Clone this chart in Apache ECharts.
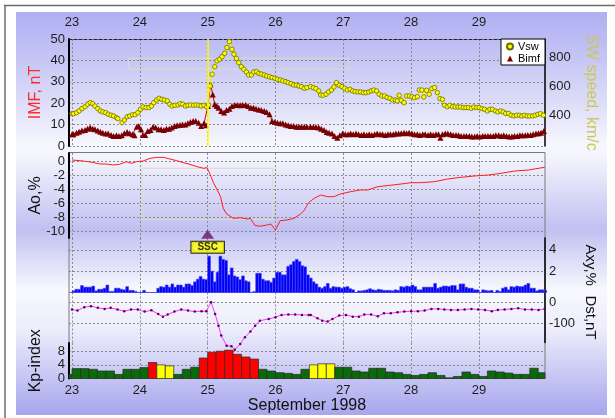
<!DOCTYPE html>
<html>
<head>
<meta charset="utf-8">
<script src="https://cdn.jsdelivr.net/npm/echarts@6/dist/echarts.min.js"></script>
<style>
  html, body { margin: 0; padding: 0; background: #fff; }
  #chart { width: 615px; height: 418px; }
</style>
</head>
<body>
<div id="chart"></div>
<script>
// September 1998 storm: IMF/Vsw, Ao, Axy, Dst, Kp
const tickDays = [23, 24, 25, 26, 27, 28, 29];

// [hours since 23 Sep 00UT, km/s]
const vswPairs = [[0,409],[0.5,409],[1.6,416],[2.5,428],[3.5,444],[4.6,457],[5.5,474],[6.4,485],[7.3,478],[8.1,462],[9.1,444],[10,428],[10.9,421],[11.9,416],[12.8,405],[13.8,398],[14.7,393],[15.7,382],[16.2,375],[17,null],[17.7,347],[18.5,365],[19.5,388],[20.4,393],[21.4,402],[22.3,402],[23.3,416],[24.2,439],[25.1,455],[26.2,451],[27.2,451],[28.1,462],[28.9,485],[29.9,503],[30.8,515],[31.8,508],[32.7,503],[33.7,497],[34.6,474],[35.4,462],[36.4,467],[37.5,469],[38.3,478],[39.2,474],[40.1,462],[41,467],[41.9,469],[43,467],[43.9,469],[44.9,467],[45.7,462],[46.7,467],[47.6,457],[48.3,469],[48.9,600],[49.6,681],[50.5,733],[51.3,773],[52.2,784],[53.1,802],[54,825],[54.8,865],[55.7,906],[56.6,853],[57.3,819],[58.2,789],[59,761],[59.9,733],[60.8,715],[61.7,697],[62.5,676],[63.5,676],[64.3,697],[65.3,699],[66.1,687],[67,682],[68,676],[68.9,669],[69.9,664],[70.8,658],[71.8,653],[72.7,646],[73.7,641],[74.6,635],[75.6,630],[76.5,623],[77.5,616],[78.4,607],[79.4,605],[80.3,600],[81.2,595],[82.2,584],[83.1,589],[84.4,595],[85.4,589],[86.3,582],[87.3,566],[88,538],[88.9,536],[89.9,543],[90.8,559],[91.8,572],[92.7,593],[93.6,623],[94.6,605],[95.5,595],[96.5,584],[97.4,572],[98.4,577],[99.3,566],[100.2,561],[101.2,559],[102.1,559],[103.1,554],[104,554],[105,559],[105.9,566],[106.8,572],[107.8,566],[108.7,543],[109.7,531],[110.6,531],[111.5,520],[112.5,515],[113.4,503],[114.4,503],[115.1,497],[115.8,536],[116.5,501],[117.5,485],[118.4,531],[119.4,531],[120.3,526],[121.2,520],[122.2,526],[122.9,572],[123.8,572],[124.5,524],[125.5,570],[126.4,543],[127.4,582],[128.3,589],[129.3,554],[130.2,513],[131.1,508],[131.8,467],[132.8,457],[133.7,467],[134.7,457],[135.6,455],[136.6,455],[137.5,455],[138.5,451],[139.4,451],[140.3,451],[141.3,446],[142.2,455],[143.2,451],[144.1,451],[145.1,444],[146,439],[147,428],[147.9,439],[148.8,439],[149.8,428],[150.7,421],[151.7,428],[152.6,421],[153.5,411],[154.5,411],[155.4,398],[156.4,393],[157.3,398],[158.3,398],[159.2,393],[160.1,398],[161.1,393],[162,393],[163,393],[163.9,398],[164.9,405],[165.8,409],[166.8,398],[167.7,393]];

// [hours since 23 Sep 00UT, nT]
const bimfPairs = [[0,5.5],[0.5,5.5],[1.6,6.2],[2.5,6.7],[3.5,7.3],[4.6,7.5],[5.5,8.1],[6.4,8.6],[7.3,8.1],[8.1,7.8],[9.1,7.3],[10,6.7],[10.9,6.2],[11.9,5.8],[12.8,5.8],[13.8,5.1],[14.7,4.7],[15.7,5.0],[16.6,4.7],[17.6,5.0],[18.5,5.9],[19.5,6.5],[20.4,5.9],[21.4,5.5],[22.1,5.0],[22.9,9.0],[23.6,9.3],[24.4,7.8],[25.1,5.1],[25.9,5.1],[26.8,7.0],[27.8,7.5],[28.7,9.0],[29.6,8.6],[30.6,7.8],[31.5,7.8],[32.5,7.5],[33.4,8.1],[34.4,8.1],[35.3,8.6],[36.3,9.3],[37.2,9.7],[38.2,9.8],[39.1,10.1],[40.1,10.1],[41,10.6],[41.9,11.2],[42.9,11.7],[43.8,11.7],[44.8,10.9],[45.7,9.3],[46.7,10.6],[47.4,9.7],[48.1,18.7],[49,28.8],[49.8,24.1],[50.5,19.5],[51.2,18.7],[51.9,17.9],[52.8,16.4],[53.8,15.6],[54.7,16.8],[55.7,17.4],[56.6,18.7],[57.6,19.2],[58.5,19.2],[59.5,19.0],[60.4,19.2],[61.4,19.2],[62.3,18.7],[63.3,17.9],[64.2,17.9],[65.1,17.4],[66.1,17.1],[67,16.8],[68,16.4],[68.9,15.9],[69.9,14.8],[70.8,11.7],[71.8,11.2],[72.7,10.9],[73.7,10.6],[74.6,10.6],[75.6,10.1],[76.5,9.7],[77.5,9.3],[78.4,9.3],[79.4,9.0],[80.3,9.0],[81.2,9.0],[82.2,9.0],[83.1,9.0],[84.4,9.0],[85.4,8.9],[86.3,8.9],[87.3,8.6],[88.2,8.1],[89.2,7.5],[90.1,6.5],[91,6.2],[92,5.8],[92.9,4.7],[93.9,3.9],[94.8,5.0],[95.8,5.8],[96.7,5.5],[97.7,5.5],[98.6,5.8],[99.5,5.5],[100.5,5.8],[101.4,5.5],[102.4,5.1],[103.3,5.5],[104.3,5.1],[105.2,5.5],[106.1,5.1],[107.1,5.5],[108,5.8],[109,5.5],[109.9,5.5],[110.9,5.1],[111.8,5.5],[112.7,5.5],[113.7,5.5],[114.6,5.8],[115.6,5.8],[116.5,5.9],[117.5,6.2],[118.4,5.9],[119.3,6.2],[120.3,5.8],[121.2,5.5],[122.2,5.5],[123.1,5.1],[124.1,5.5],[125,5.5],[126,5.1],[126.9,5.5],[127.8,5.1],[128.8,5.5],[129.7,5.5],[130.4,3.9],[131.1,5.5],[132.1,5.8],[133,5.8],[134,5.5],[134.9,5.1],[135.9,5.1],[136.8,5.0],[137.7,4.7],[138.7,4.7],[139.6,4.7],[140.6,4.7],[141.5,4.4],[142.5,4.4],[143.4,4.7],[144.3,4.4],[145.3,4.7],[146.2,4.7],[147.2,4.7],[148.1,4.7],[149.1,4.7],[150,5.0],[151,5.0],[151.9,4.7],[152.8,5.0],[153.8,4.7],[154.7,4.4],[155.7,4.4],[156.6,4.7],[157.6,4.7],[158.5,5.0],[159.4,5.0],[160.4,5.0],[161.3,5.1],[162.3,5.1],[163.2,5.5],[164.2,5.8],[165.1,5.9],[166,6.2],[167,7.0]];

// [day of Sep, Ao %]
const aoPairs = [[23.0,0.14],[23.16,0],[23.31,-0.2],[23.41,-0.43],[23.51,-0.43],[23.6,-0.57],[23.7,-0.48],[23.8,-0.1],[23.88,-0.33],[23.95,-0.1],[24.05,0],[24.15,0.38],[24.25,0.52],[24.35,0.52],[24.44,0.29],[24.54,0.05],[24.64,-0.24],[24.74,-0.48],[24.84,-0.8],[24.94,-1.05],[24.99,-0.95],[25.03,-1.76],[25.09,-3.2],[25.14,-4.1],[25.16,-3.9],[25.19,-5.1],[25.23,-6.76],[25.28,-7.57],[25.38,-8.2],[25.48,-8.1],[25.58,-8.29],[25.63,-8.2],[25.7,-9.24],[25.78,-9.3],[25.88,-9.14],[25.93,-9.0],[26.0,-9.86],[26.07,-8.52],[26.17,-8.43],[26.27,-8.2],[26.37,-7.57],[26.42,-7.1],[26.49,-5.95],[26.57,-5.33],[26.67,-4.86],[26.77,-5.1],[26.86,-5.1],[26.96,-4.71],[27.11,-4.38],[27.26,-4.14],[27.36,-4.14],[27.51,-3.67],[27.65,-3.52],[27.85,-3.29],[28.0,-3.1],[28.15,-3.1],[28.35,-2.95],[28.54,-2.57],[28.74,-2.33],[28.94,-2.14],[29.14,-2.0],[29.33,-1.76],[29.53,-1.43],[29.73,-1.29],[29.97,-0.9]];

// hourly Axy %, one array per day
const axy23 = [0.15,0.3,0.3,0.65,0.5,0.5,0.5,0.6,0.15,0.3,0.3,0.4,0.7,0.1,0.1,0.4,0.4,0.3,0.25,0.55,0.2,0.2,0.1,0];
const axy24 = [0,0.2,0,0,0,0,0.4,0.55,0.5,0.7,0.5,0.8,0.5,0.7,0.7,0.5,0.8,0.8,0.65,1.0,1.25,1.5,1.25,1.2];
const axy25 = [3.4,2.0,1.0,1.9,3.4,3.1,3.0,1.65,2.3,1.55,1.45,1.2,1.55,1.1,1.0,0,0.1,1.8,1.8,1.25,1.1,1.1,0.95,1.35];
const axy26 = [1.9,1.9,1.65,1.65,2.45,2.6,2.9,3.1,2.9,2.5,2.4,1.65,1.35,1.0,0.8,0.5,0.4,0.55,0.85,0.4,0.55,0.5,0.5,0.4];
const axy27 = [0.5,0.55,0.35,0.25,0,0.15,0.15,0.2,0.25,0.35,0.25,0.2,0.3,0.25,0.2,0.2,0.2,0.15,0.25,0.2,0.55,0.5,0.6,0.55];
const axy28 = [0.7,0.55,0.25,0.25,0.5,0.5,0.5,0.5,0.85,0.4,0.5,0.6,0.6,0.55,0.65,0.65,0.25,0.8,0.8,0.5,0.4,0.4,0.25,0.25];
const axy29 = [0,0.25,0.2,0.15,0.2,0,0.2,0.1,0.4,0.5,0.25,0.55,0.5,0.6,0.55,0.55,0.7,0.85,0.4,0.4,0.15,0.25,0.25,0.2];

// [day of Sep, Dst nT]
const dstPairs = [[23.0,-33],[23.08,-38],[23.18,-22],[23.28,-17],[23.38,-25],[23.48,-30],[23.57,-25],[23.67,-33],[23.77,-41],[23.87,-33],[23.97,-33],[24.07,-43],[24.17,-37],[24.27,-54],[24.34,-67],[24.41,-57],[24.51,-43],[24.61,-33],[24.71,-38],[24.81,-43],[24.91,-41],[24.98,-41],[25.05,2],[25.11,-54],[25.16,-110],[25.2,-157],[25.28,-205],[25.35,-208],[25.4,-224],[25.48,-197],[25.55,-165],[25.63,-138],[25.7,-110],[25.77,-86],[25.9,-78],[26.0,-70],[26.09,-59],[26.19,-57],[26.29,-57],[26.39,-59],[26.49,-59],[26.52,-59],[26.62,-75],[26.69,-86],[26.77,-90],[26.84,-78],[26.94,-62],[27.04,-59],[27.14,-67],[27.23,-67],[27.31,-57],[27.41,-57],[27.51,-65],[27.6,-51],[27.7,-51],[27.8,-46],[27.9,-43],[28.0,-41],[28.1,-41],[28.2,-38],[28.3,-30],[28.4,-30],[28.49,-33],[28.59,-35],[28.69,-35],[28.79,-33],[28.89,-30],[28.99,-33],[29.09,-35],[29.19,-41],[29.28,-35],[29.38,-33],[29.48,-30],[29.58,-27],[29.68,-33],[29.78,-33],[29.88,-35],[29.97,-30]];

// 3-hour Kp, from 23 Sep 00UT (kpPrev = last interval of 22 Sep)
const kpPrev = 1.2;
const kp = [2.9,2.9,2.7,2.2,2.2,1.2,2.7,2.7, 3.2,4.7,4.0,3.7,1.2,2.7,3.3,6.0, 7.7,8.0,8.3,7.1,6.3,5.7,2.7,2.2, 1.7,1.5,1.2,2.7,4.0,4.3,4.3,3.3, 3.3,2.2,1.9,3.0,3.0,1.9,1.7,1.2, 0.9,1.2,1.7,0.9,0.2,0.6,1.9,1.2, 0.6,2.2,1.9,1.6,1.2,1.2,3.0,1.7];

const X_MIN = 22.955, X_MAX = 29.975;
const FONT = 'Liberation Sans';
const dash = { color: '#8a8a8a', width: 1, type: [2, 2] };
const lbl = { fontFamily: FONT, fontSize: 13, color: '#1e1e1e' };

const toDay = h => 23 + h / 24;
const vswData = vswPairs.map(p => [toDay(p[0]), p[1] === null ? '-' : p[1]]);
const bimfData = bimfPairs.map(p => [toDay(p[0]), p[1]]);
const axyHourly = [].concat(axy23, axy24, axy25, axy26, axy27, axy28, axy29);
const axyData = axyHourly.map((v, i) => [23 + i / 24, v]);
const kpData = [[22.875, kpPrev]].concat(kp.map((v, i) => [23 + i / 8, v]));

function xAxisFor(grid, extra) {
  return Object.assign({
    type: 'value', gridIndex: grid, min: X_MIN, max: X_MAX,
    axisLine: { show: false, onZero: false },
    axisTick: { show: false, customValues: tickDays },
    axisLabel: { show: false, customValues: tickDays },
    splitLine: { show: true, lineStyle: dash }
  }, extra || {});
}

function yAxisFor(grid, pos, min, max, ticks, name, nameColor, extra) {
  return Object.assign({
    type: 'value', gridIndex: grid, position: pos, min: min, max: max,
    axisLine: { show: true, onZero: false, lineStyle: { color: '#000', width: 2 } },
    axisTick: { show: false, customValues: ticks },
    axisLabel: Object.assign({ customValues: ticks, margin: 4 }, lbl),
    splitLine: { show: true, lineStyle: dash },
    name: name, nameLocation: 'middle', nameMoveOverlap: false,
    nameGap: pos === 'left' ? 25 : 38,
    nameRotate: pos === 'left' ? 90 : -90,
    nameTextStyle: { fontFamily: FONT, fontSize: 16, color: nameColor }
  }, extra || {});
}

function axyRender(params, api) {
  const x0 = api.value(0), v = api.value(1);
  const a = api.coord([x0, v]), b = api.coord([x0 + 1 / 24, 0]);
  return {
    type: 'rect',
    shape: { x: a[0], y: a[1], width: b[0] - a[0], height: b[1] - a[1] },
    style: { fill: '#0000f4', stroke: '#4c4cff', lineWidth: 0.6 }
  };
}

function kpColor(v) {
  if (v >= 4.5) return '#ff0000';
  if (v >= 3.5) return '#ffff00';
  return '#0b6b0b';
}

function kpRender(params, api) {
  const x0 = api.value(0), v = api.value(1);
  const a = api.coord([x0, v]), b = api.coord([x0 + 0.125, 0]);
  const cs = params.coordSys;
  const shape = echarts.graphic.clipRectByRect(
    { x: a[0], y: a[1], width: b[0] - a[0], height: b[1] - a[1] },
    { x: cs.x, y: cs.y, width: cs.width, height: cs.height });
  if (!shape) return;
  return { type: 'rect', shape: shape, style: { fill: kpColor(v), stroke: '#2a2a2a', lineWidth: 0.7 } };
}

const chart = echarts.init(document.getElementById('chart'));

chart.setOption({
  animation: false,
  backgroundColor: '#fff',
  textStyle: { fontFamily: FONT },
  graphic: [
    { type: 'rect', z: -10, shape: { x: 16, y: 12, width: 591, height: 403 },
      style: { fill: new echarts.graphic.LinearGradient(0, 0, 0, 1, [
        { offset: 0, color: '#b0b0f2' },
        { offset: 0.07, color: '#bcbcf4' },
        { offset: 0.22, color: '#dcdcf8' },
        { offset: 0.33, color: '#f7f7fe' },
        { offset: 0.36, color: '#f4f4fd' },
        { offset: 0.54, color: '#c0c0f2' },
        { offset: 0.69, color: '#f8f8fe' },
        { offset: 0.79, color: '#ececfb' },
        { offset: 1, color: '#a6a6ee' }
      ]) } },
    { type: 'line', z: -9, shape: { x1: 4, y1: 5.5, x2: 615, y2: 5.5 }, style: { stroke: '#6c6c6c', lineWidth: 1.5 } },
    { type: 'line', z: -9, shape: { x1: 5, y1: 5, x2: 5, y2: 418 }, style: { stroke: '#6c6c6c', lineWidth: 1.5 } }
  ],
  legend: {
    data: [{ name: 'Vsw', icon: 'circle' }, { name: 'Bimf', icon: 'triangle' }],
    orient: 'vertical', right: 70, top: 39,
    backgroundColor: '#fff', borderColor: '#000', borderWidth: 1,
    padding: [2, 5, 1, 5], itemGap: 1, itemWidth: 6, itemHeight: 6,
    textStyle: { fontFamily: FONT, fontSize: 11, color: '#000' }
  },
  grid: [
    { left: 69, width: 476, top: 39, height: 107 },
    { left: 69, width: 476, top: 153, height: 85 },
    { left: 69, width: 476, top: 238, height: 54.5 },
    { left: 69, width: 476, top: 292.5, height: 50 },
    { left: 69, width: 476, top: 343, height: 35.5 },
    { left: 69, width: 476, top: 152.5, height: 140, show: true, borderColor: '#7a7a7a', borderWidth: 1 },
    { left: 69, width: 476, top: 292.5, height: 86, show: true, borderColor: '#7a7a7a', borderWidth: 1 }
  ],
  xAxis: [
    xAxisFor(0, {
      position: 'top',
      axisLine: { show: true, onZero: false, lineStyle: { color: '#222', width: 1, type: [3, 2] } },
      axisLabel: Object.assign({ show: true, customValues: tickDays, margin: 10 }, lbl)
    }),
    xAxisFor(1),
    xAxisFor(2),
    xAxisFor(3),
    xAxisFor(4, {
      position: 'bottom',
      axisLabel: Object.assign({ show: true, customValues: tickDays, margin: 5 }, lbl),
      name: 'September 1998', nameLocation: 'middle', nameGap: 19, nameMoveOverlap: false,
      nameTextStyle: { fontFamily: FONT, fontSize: 16, color: '#111' }
    }),
    { type: 'value', gridIndex: 5, show: false },
    { type: 'value', gridIndex: 6, show: false }
  ],
  yAxis: [
    yAxisFor(0, 'left', 0, 50, [0, 10, 20, 30, 40, 50], 'IMF, nT', '#ff2a2a'),
    yAxisFor(0, 'right', 186, 924, [400, 600, 800], 'SW speed, km/c', '#c9c95c', {
      axisLine: { show: true, onZero: false, lineStyle: { color: '#000', width: 1.5 } },
      splitLine: { show: false }
    }),
    yAxisFor(1, 'left', -11, 1.14, [-10, -8, -6, -4, -2, 0], 'Ao,%', '#111'),
    yAxisFor(2, 'right', 0, 5.1, [2, 4], 'Axy,%', '#111', {
      axisLine: { show: true, onZero: false, lineStyle: { color: '#000', width: 1.5 } },
      nameTextStyle: { fontFamily: FONT, fontSize: 15, color: '#111' }
    }),
    yAxisFor(3, 'right', -190, 48, [-100, 0], 'Dst,nT', '#111', {
      axisLine: { show: true, onZero: false, lineStyle: { color: '#000', width: 1.5 } },
      nameTextStyle: { fontFamily: FONT, fontSize: 15, color: '#111' }
    }),
    yAxisFor(4, 'left', 0, 10.4, [0, 4, 8], 'Kp-index', '#111'),
    { type: 'value', gridIndex: 5, show: false },
    { type: 'value', gridIndex: 6, show: false }
  ],
  series: [
    {
      name: 'Vsw', type: 'line', xAxisIndex: 0, yAxisIndex: 1, data: vswData,
      symbol: 'circle', symbolSize: 4.5, z: 4,
      itemStyle: { color: '#ffff00', borderColor: '#6e6e00', borderWidth: 0.8 },
      lineStyle: { color: '#ffee00', width: 1.2 }
    },
    {
      name: 'Bimf', type: 'line', xAxisIndex: 0, yAxisIndex: 0, data: bimfData,
      symbol: 'triangle', symbolSize: 6, z: 3,
      itemStyle: { color: '#780000' },
      lineStyle: { color: '#e00000', width: 1 },
      markLine: {
        silent: true, symbol: 'none', label: { show: false },
        lineStyle: { color: '#ffff00', width: 1.5, type: 'solid' },
        data: [{ xAxis: 25 }]
      },
      markArea: {
        silent: true,
        itemStyle: { color: 'rgba(0,0,0,0)', borderColor: '#dcdcc4', borderWidth: 1 },
        data: [[{ xAxis: 23.83, yAxis: 36 }, { xAxis: 27.08, yAxis: 41 }]]
      }
    },
    {
      name: 'Ao', type: 'line', xAxisIndex: 1, yAxisIndex: 2, data: aoPairs,
      showSymbol: false, lineStyle: { color: '#ff1c1c', width: 1 },
      markArea: {
        silent: true,
        itemStyle: { color: 'rgba(0,0,0,0)', borderColor: '#dcdcc4', borderWidth: 1 },
        data: [[{ xAxis: 24.03, yAxis: -1.04 }, { xAxis: 25.96, yAxis: -8.33 }]]
      }
    },
    {
      name: 'SSC', type: 'scatter', xAxisIndex: 1, yAxisIndex: 2, data: [[25, -10.45]],
      symbol: 'triangle', symbolSize: [13, 9], clip: false, z: 6,
      itemStyle: { color: '#6a1868' },
      label: {
        show: true, formatter: 'SSC', position: 'bottom', distance: 3,
        backgroundColor: '#ffff00', borderColor: '#000', borderWidth: 1,
        padding: [1, 6, 0, 6], fontFamily: FONT, fontSize: 10, fontWeight: 'bold', color: '#000'
      }
    },
    {
      name: 'Axy', type: 'custom', xAxisIndex: 2, yAxisIndex: 3, data: axyData,
      renderItem: axyRender, encode: { x: 0, y: 1 }
    },
    {
      name: 'Dst', type: 'line', xAxisIndex: 3, yAxisIndex: 4, data: dstPairs,
      symbol: 'circle', symbolSize: 2.5, clip: false,
      itemStyle: { color: '#5a005c' },
      lineStyle: { color: '#ff33ff', width: 1 }
    },
    {
      name: 'Kp', type: 'custom', xAxisIndex: 4, yAxisIndex: 5, data: kpData,
      renderItem: kpRender, encode: { x: 0, y: 1 }
    }
  ]
});
</script>
</body>
</html>
